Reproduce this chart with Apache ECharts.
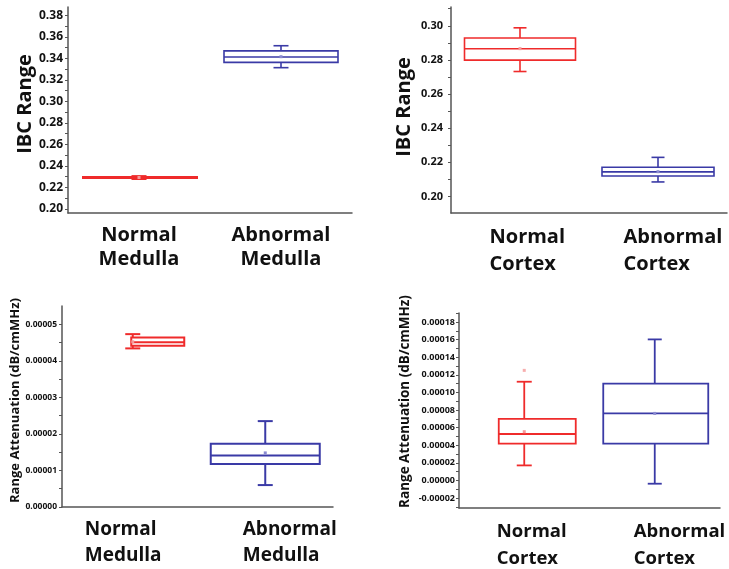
<!DOCTYPE html>
<html>
<head>
<meta charset="utf-8">
<script src="https://cdn.jsdelivr.net/npm/echarts@6/dist/echarts.min.js"></script>
<style>
html,body{margin:0;padding:0;background:#fff;}
#chart{width:729px;height:569px;}
</style>
</head>
<body>
<div id="chart"></div>
<script>
// ---------- DATA ----------
// Top-left: IBC Range, medulla
const medullaCategories = ['Normal Medulla', 'Abnormal Medulla'];
// [min, Q1, median, Q3, max]
const medullaIbcBoxes = [
  [0.2279, 0.2288, 0.2293, 0.2298, 0.2306],
  [0.3314, 0.3363, 0.3413, 0.3470, 0.3518]
];
const medullaIbcMeans = [0.2293, 0.3416];
const medullaIbcTicks = [0.20, 0.22, 0.24, 0.26, 0.28, 0.30, 0.32, 0.34, 0.36, 0.38];

// Top-right: IBC Range, cortex
const cortexCategories = ['Normal Cortex', 'Abnormal Cortex'];
const cortexIbcBoxes = [
  [0.2732, 0.2799, 0.2865, 0.2928, 0.2988],
  [0.2085, 0.2120, 0.2144, 0.2171, 0.2229]
];
const cortexIbcMeans = [0.2866, 0.2145];
const cortexIbcTicks = [0.20, 0.22, 0.24, 0.26, 0.28, 0.30];

// Bottom-left: Range attenuation, medulla
const medullaAttBoxes = [
  [0.0000434, 0.0000441, 0.0000451, 0.0000464, 0.0000473],
  [0.0000060, 0.0000118, 0.0000141, 0.0000173, 0.0000235]
];
const medullaAttMeans = [0.0000452, 0.0000148];
const medullaAttTicks = [0.00000, 0.00001, 0.00002, 0.00003, 0.00004, 0.00005];

// Bottom-right: Range attenuation, cortex
const cortexAttBoxes = [
  [0.0000170, 0.0000417, 0.0000527, 0.0000698, 0.0001121],
  [-0.0000038, 0.0000417, 0.0000761, 0.0001099, 0.0001602]
];
const cortexAttMeans = [0.0000553, 0.0000761];
const cortexAttOutliers = [[0, 0.000125]];
const cortexAttTicks = [-0.00002, 0.00000, 0.00002, 0.00004, 0.00006, 0.00008, 0.00010, 0.00012, 0.00014, 0.00016, 0.00018];

// ---------- STYLE ----------
const RED = '#ef2b2b', BLUE = '#3a3aa6';
const RED_DOT = '#f59a9a', BLUE_DOT = '#8a8ad0';
const FONT = '"Open Sans", "DejaVu Sans", sans-serif';
const AXIS_COLOR = '#555';

const panelStyles = [
  [ {color: RED, dot: RED_DOT, boxWidth: 114, boxOffset: 1, whiskerOffset: 0, capWidth: 15, lineWidth: 2},
    {color: BLUE, dot: BLUE_DOT, boxWidth: 114, boxOffset: 0, whiskerOffset: 0, capWidth: 15, lineWidth: 1.6} ],
  [ {color: RED, dot: RED_DOT, boxWidth: 111, boxOffset: 0, whiskerOffset: 0, capWidth: 13, lineWidth: 1.6},
    {color: BLUE, dot: BLUE_DOT, boxWidth: 112, boxOffset: 0, whiskerOffset: 0, capWidth: 13, lineWidth: 1.6} ],
  [ {color: RED, dot: RED_DOT, boxWidth: 53, boxOffset: 28, whiskerOffset: 3, capWidth: 15, lineWidth: 2},
    {color: BLUE, dot: BLUE_DOT, boxWidth: 109, boxOffset: 0, whiskerOffset: 0, capWidth: 15, lineWidth: 2} ],
  [ {color: RED, dot: RED_DOT, boxWidth: 77, boxOffset: 13, whiskerOffset: 0, capWidth: 15, lineWidth: 1.8},
    {color: BLUE, dot: BLUE_DOT, boxWidth: 105, boxOffset: 1, whiskerOffset: 0, capWidth: 14, lineWidth: 1.8} ]
];

function makeRender(styles) {
  return function (params, api) {
    const i = api.value(0);
    const st = styles[params.dataIndex];
    const lo = api.coord([i, api.value(1)]);
    const q1 = api.coord([i, api.value(2)]);
    const md = api.coord([i, api.value(3)]);
    const q3 = api.coord([i, api.value(4)]);
    const hi = api.coord([i, api.value(5)]);
    const mn = api.coord([i, api.value(6)]);
    const cx = lo[0] + st.boxOffset;
    const wx = lo[0] + st.whiskerOffset;
    const hw = st.boxWidth / 2, cw = st.capWidth / 2;
    const ls = {stroke: st.color, lineWidth: st.lineWidth, fill: null};
    return {
      type: 'group',
      children: [
        {type: 'line', shape: {x1: wx, y1: hi[1], x2: wx, y2: q3[1]}, style: ls},
        {type: 'line', shape: {x1: wx, y1: q1[1], x2: wx, y2: lo[1]}, style: ls},
        {type: 'line', shape: {x1: wx - cw, y1: hi[1], x2: wx + cw, y2: hi[1]}, style: ls},
        {type: 'line', shape: {x1: wx - cw, y1: lo[1], x2: wx + cw, y2: lo[1]}, style: ls},
        {type: 'rect', shape: {x: cx - hw, y: q3[1], width: 2 * hw, height: q1[1] - q3[1]}, style: {stroke: st.color, lineWidth: st.lineWidth, fill: 'rgba(255,255,255,0)'}},
        {type: 'line', shape: {x1: cx - hw, y1: md[1], x2: cx + hw, y2: md[1]}, style: ls},
        {type: 'rect', shape: {x: wx - 1.5, y: mn[1] - 1.5, width: 3, height: 3}, style: {fill: st.dot}}
      ]
    };
  };
}

function toRows(boxes, means) {
  return boxes.map((b, i) => [i].concat(b).concat([means[i]]));
}
function minorTicks(ticks, lo, hi) {
  const out = ticks.slice();
  const step = ticks[1] - ticks[0];
  for (let k = -1; k < ticks.length; k++) {
    const base = k < 0 ? ticks[0] - step : ticks[k];
    const v = base + step / 2;
    if (v > lo && v < hi) out.push(+v.toFixed(8));
  }
  return out;
}

const grids = [
  {left: 68, top: 7, width: 284, height: 206},
  {left: 451, top: 7, width: 276, height: 206},
  {left: 62, top: 306, width: 271, height: 201},
  {left: 459, top: 313, width: 261, height: 195}
];

const yRanges = [[0.1963, 0.3878], [0.1903, 0.311], [0, 0.000055], [-0.0000314, 0.0001902]];
const yTicks = [medullaIbcTicks, cortexIbcTicks, medullaAttTicks, cortexAttTicks];
const yNames = ['IBC Range', 'IBC Range', 'Range Attenuation (dB/cmMHz)', 'Range Attenuation (dB/cmMHz)'];
const yNameStyle = [
  {fontSize: 20, gap: 33, pad: 12},
  {fontSize: 20, gap: 37, pad: 6},
  {fontSize: 13, gap: 40, pad: 12},
  {fontSize: 13.5, gap: 47, pad: 18}
];
const yLabelStyle = [
  {fontSize: 12, margin: 5, digits: 2},
  {fontSize: 11, margin: 8, digits: 2},
  {fontSize: 8.5, margin: 5, digits: 5},
  {fontSize: 9, margin: 4, digits: 5}
];
const xCats = [medullaCategories, cortexCategories, medullaCategories, cortexCategories];
const xLabelStyle = [
  {fontSize: 20, lineHeight: 24, margin: 10, widths: null},
  {fontSize: 20, lineHeight: 27, margin: 11, widths: [61, 69]},
  {fontSize: 19, lineHeight: 26, margin: 10, widths: [90, 45]},
  {fontSize: 18.5, lineHeight: 27, margin: 10, widths: [55, 42]}
];

const xAxes = [], yAxes = [];
for (let p = 0; p < 4; p++) {
  const xs = xLabelStyle[p];
  const rich = {};
  for (let c = 0; c < 2; c++) {
    const r = {fontSize: xs.fontSize, fontWeight: 'bold', fontFamily: FONT, color: '#111', lineHeight: xs.lineHeight};
    if (xs.widths) { r.width = xs.widths[c]; r.align = 'left'; }
    rich['c' + c] = r;
  }
  xAxes.push({
    gridIndex: p, type: 'category', data: xCats[p], boundaryGap: true,
    axisLine: {onZero: false, lineStyle: {color: AXIS_COLOR, width: 1.5}},
    axisTick: {alignWithLabel: true, length: 4, lineStyle: {color: AXIS_COLOR, width: 1.5}},
    axisLabel: {
      interval: 0, margin: xs.margin,
      formatter: (v, i) => v.split(' ').map(w => '{c' + i + '|' + w + '}').join('\n'),
      rich: rich
    },
    splitLine: {show: false}
  });
  const ys = yLabelStyle[p], ns = yNameStyle[p];
  yAxes.push({
    gridIndex: p, type: 'value', min: yRanges[p][0], max: yRanges[p][1],
    name: yNames[p], nameLocation: 'middle', nameGap: ns.gap, nameRotate: 90,
    nameTextStyle: {fontSize: ns.fontSize, fontWeight: 'bold', fontFamily: FONT, color: '#111', padding: [0, 0, 0, ns.pad]},
    axisLine: {show: true, onZero: false, lineStyle: {color: AXIS_COLOR, width: 1.5}},
    axisTick: {show: true, length: 3, customValues: minorTicks(yTicks[p], yRanges[p][0], yRanges[p][1]), lineStyle: {color: AXIS_COLOR, width: 1}},
    axisLabel: {
      customValues: yTicks[p], margin: ys.margin,
      fontSize: ys.fontSize, fontWeight: 'bold', fontFamily: FONT, color: '#111',
      formatter: v => v.toFixed(ys.digits)
    },
    splitLine: {show: false}
  });
}

const boxData = [
  toRows(medullaIbcBoxes, medullaIbcMeans),
  toRows(cortexIbcBoxes, cortexIbcMeans),
  toRows(medullaAttBoxes, medullaAttMeans),
  toRows(cortexAttBoxes, cortexAttMeans)
];

const series = [];
for (let p = 0; p < 4; p++) {
  series.push({
    type: 'custom', xAxisIndex: p, yAxisIndex: p,
    renderItem: makeRender(panelStyles[p]),
    encode: {x: 0, y: [1, 2, 3, 4, 5]},
    data: boxData[p], z: 5
  });
}
series.push({
  type: 'scatter', xAxisIndex: 3, yAxisIndex: 3,
  symbol: 'rect', symbolSize: 3,
  itemStyle: {color: RED_DOT},
  data: cortexAttOutliers
});

const chart = echarts.init(document.getElementById('chart'), null, {renderer: 'canvas'});
chart.setOption({
  animation: false,
  backgroundColor: '#fff',
  grid: grids,
  xAxis: xAxes,
  yAxis: yAxes,
  series: series
});
</script>
</body>
</html>
